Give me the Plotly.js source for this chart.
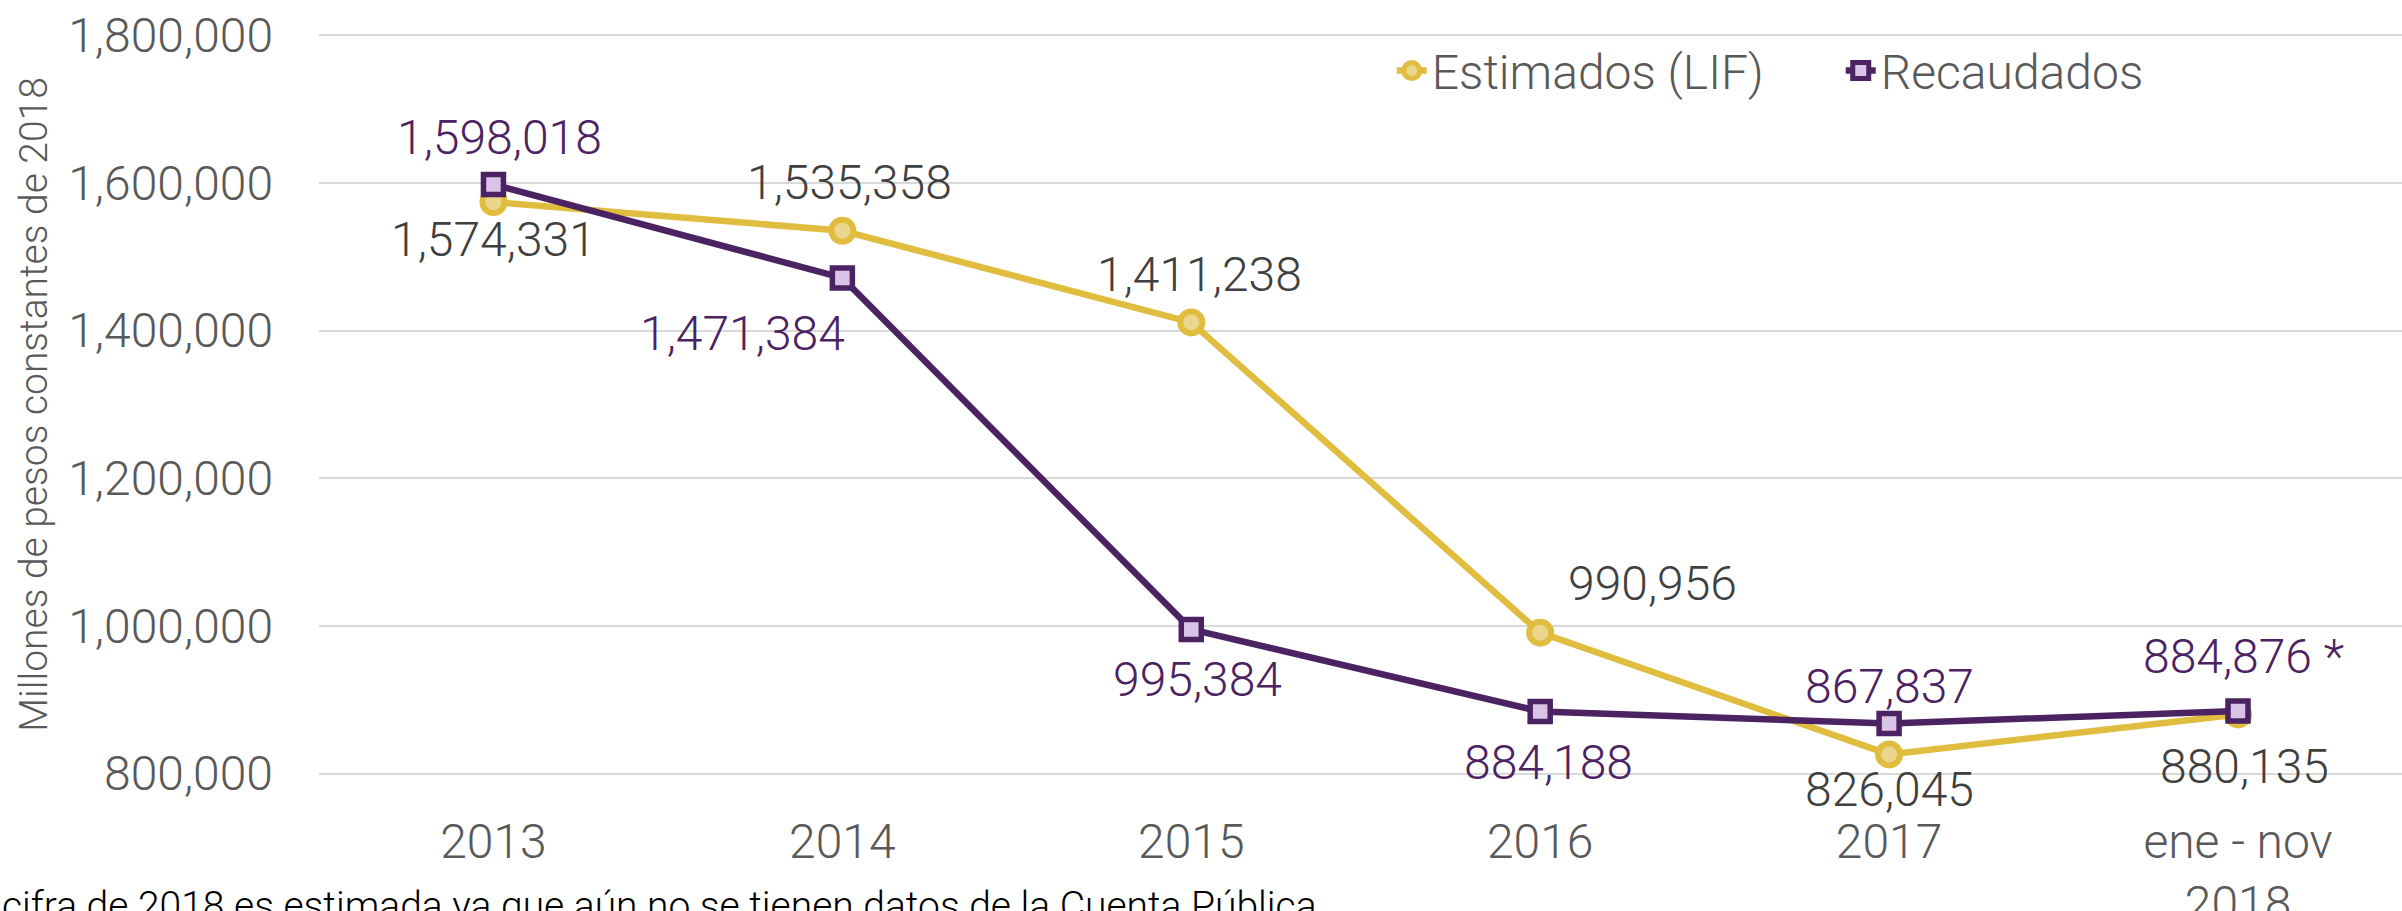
<!DOCTYPE html>
<html>
<head>
<meta charset="utf-8">
<script src="https://cdn.plot.ly/plotly-3.0.1.min.js"></script>
<style>
  html, body { margin: 0; padding: 0; background: #fff; }
  #chart { width: 2402px; height: 911px; }
</style>
</head>
<body>
<div id="chart"></div>
<script>
// data
var years = ['2013', '2014', '2015', '2016', '2017', 'ene - nov<br>2018'];
var estimados = [1574331, 1535358, 1411238, 990956, 826045, 880135];
var recaudados = [1598018, 1471384, 995384, 884188, 867837, 884876];
var recaudadosNotes = ['', '', '', '', '', ' *'];

// label placement (px offsets from the point)
var estShiftX = [0, 7, 8, 112, 0, 6];
var estShiftY = [-38, 48, 48, 49, -35, -52];
var recShiftX = [6, -100, 6, 8, 0, 5];
var recShiftY = [47, -56, -50, -51, 37, 54];

var FONT = 'Roboto, "Liberation Sans", sans-serif';
var gold = '#E0BD3E';
var purple = '#4B2262';

document.addEventListener('DOMContentLoaded', function(){
  var trace1 = {
    x: years,
    y: estimados,
    name: 'Estimados (LIF)',
    type: 'scatter',
    mode: 'lines+markers',
    line: {color: gold, width: 6.5},
    marker: {symbol: 'circle', size: 22, color: '#EAD68C', line: {color: gold, width: 6}}
  };
  var trace2 = {
    x: years,
    y: recaudados,
    name: 'Recaudados',
    type: 'scatter',
    mode: 'lines+markers',
    line: {color: purple, width: 6.5},
    marker: {symbol: 'square', size: 20, color: '#D9C3E6', line: {color: purple, width: 5.5}}
  };

  // category axis: annotations are placed by category index
  var annotations = [];
  for(var i = 0; i < years.length; i++){
    annotations.push({
      x: i, y: estimados[i], xref: 'x', yref: 'y',
      text: estimados[i].toLocaleString('en-US'),
      showarrow: false, xshift: estShiftX[i], yshift: estShiftY[i],
      font: {family: FONT, size: 48, color: '#404040', weight: 300}
    });
    annotations.push({
      x: i, y: recaudados[i], xref: 'x', yref: 'y',
      text: recaudados[i].toLocaleString('en-US') + recaudadosNotes[i],
      showarrow: false, xshift: recShiftX[i], yshift: recShiftY[i],
      font: {family: FONT, size: 48, color: purple, weight: 300}
    });
  }
  annotations.push({
    xref: 'paper', yref: 'paper', x: -0.153, y: -0.133,
    xanchor: 'left', yanchor: 'top', showarrow: false,
    text: 'cifra de 2018 es estimada ya que aún no se tienen datos de la Cuenta Pública',
    font: {family: FONT, size: 39, color: '#000000', weight: 300}
  });

  var layout = {
    width: 2402,
    height: 911,
    margin: {l: 319, r: 0, t: 28, b: 130},
    paper_bgcolor: '#ffffff',
    plot_bgcolor: '#ffffff',
    font: {family: FONT, size: 48, color: '#595959', weight: 300},
    showlegend: true,
    legend: {
      orientation: 'h', x: 0.515, y: 0.943, xanchor: 'left', yanchor: 'middle',
      entrywidth: 404,
      font: {family: FONT, size: 48, color: '#595959', weight: 300},
      bgcolor: 'rgba(0,0,0,0)'
    },
    xaxis: {
      type: 'category',
      range: [-0.5, 5.47],
      showgrid: false, zeroline: false, showline: false,
      ticks: '',
      ticklabelstandoff: 28,
      tickfont: {family: FONT, size: 48, color: '#595959', weight: 300},
      automargin: false
    },
    yaxis: {
      range: [790000, 1810000],
      dtick: 200000,
      tick0: 0,
      tickformat: ',d',
      showgrid: true, gridcolor: '#D9D9D9', gridwidth: 2,
      zeroline: false, showline: false,
      ticks: '',
      ticklabelstandoff: 45,
      tickfont: {family: FONT, size: 48, color: '#595959', weight: 300},
      title: {text: 'Millones de pesos constantes de 2018', standoff: 8,
              font: {family: FONT, size: 39, color: '#595959', weight: 300}},
      automargin: false
    },
    annotations: annotations
  };

  Plotly.newPlot('chart', [trace1, trace2], layout, {staticPlot: true, displayModeBar: false});
});
</script>
</body>
</html>
